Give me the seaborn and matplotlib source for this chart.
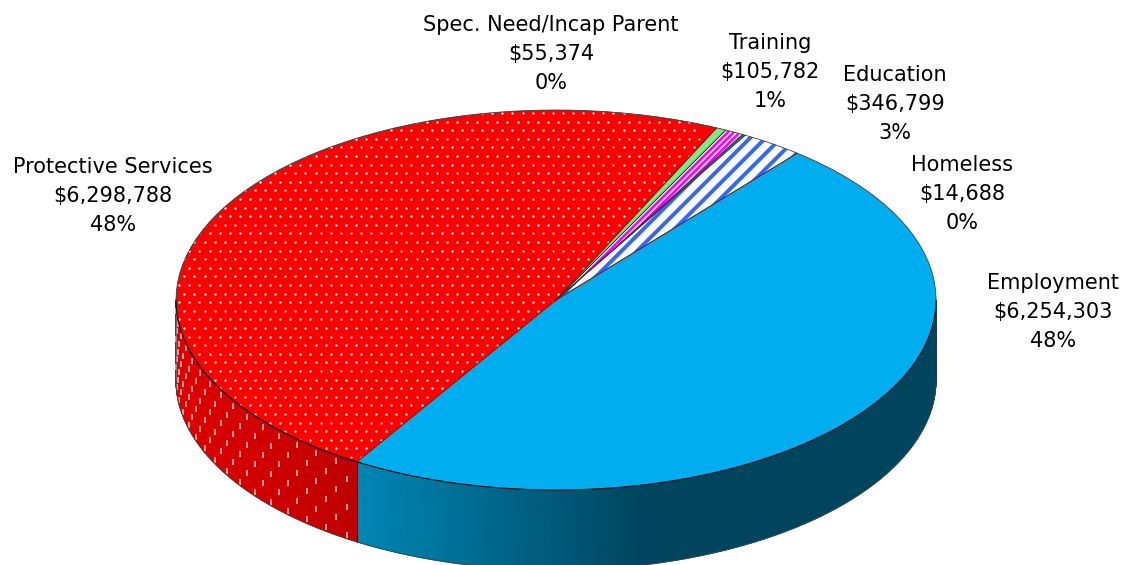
import numpy as np
import matplotlib.pyplot as plt
from matplotlib.collections import LineCollection
import seaborn as sns

# 1. Data
categories = ['Employment', 'Education', 'Homeless', 'Training', 'Spec. Need/Incap Parent', 'Protective Services']
amounts = [6254303, 346799, 14688, 105782, 55374, 6298788]
slice_colors = ['#00AEEF', '#FFFFFF', '#008FB5', '#FFFFFF', '#7FE87F', '#FF0000']

# 2. Layout in reference pixels
W, H = 1126, 565
CX, CY = 556, 300
RX, RY = 380, 190
DEPTH = 80
START_ANGLE = 238.4
label_pos = {
    'Employment': (1053, 312),
    'Education': (895, 104),
    'Homeless': (962, 194),
    'Training': (770, 72),
    'Spec. Need/Incap Parent': (551, 54),
    'Protective Services': (113, 196),
}


def px_x(x):
    return (np.asarray(x, dtype=float) - CX) / RX


def px_y(y):
    return (CY - np.asarray(y, dtype=float)) / RY


sns.set_theme(style='white')
plt.rcParams['font.family'] = ['DejaVu Sans']

fig = plt.figure(figsize=(W / 100, H / 100), dpi=100)
ax = fig.add_axes([0, 0, 1, 1])

# 3. Top face of the pie, the axes limits squash it into an ellipse
wedges, _ = ax.pie(amounts, colors=slice_colors, startangle=START_ANGLE, counterclock=True,
                   radius=1, center=(0, 0), wedgeprops={'linewidth': 0, 'zorder': 3})
ax.pie(amounts, startangle=START_ANGLE, counterclock=True, radius=1, center=(0, 0),
       wedgeprops={'fill': False, 'edgecolor': '#333333', 'linewidth': 0.55, 'zorder': 6})
ax.set_aspect('auto')
ax.set_xlim(px_x(0), px_x(W))
ax.set_ylim(px_y(H), px_y(0))
ax.axis('off')
wedge_by_name = dict(zip(categories, wedges))

# 4. Side wall, shaded left to right
depth = DEPTH / RY
wall_palettes = {
    'Employment': ['#0087B5', '#00445E', '#00445E'],
    'Protective Services': ['#E00000', '#BE0000'],
}
for name, colors in wall_palettes.items():
    w = wedge_by_name[name]
    t1, t2 = w.theta1 % 360, w.theta2 % 360
    if t2 <= t1:
        t2 += 360
    a = max(t1, 180)
    b = min(t2, 360)
    th = np.radians(np.linspace(a, b, 200))
    xs = np.cos(th)
    ys = np.sin(th)
    X = np.vstack([xs, xs])
    Y = np.vstack([ys, ys - depth])
    cmap = sns.blend_palette(colors, as_cmap=True)
    ax.pcolormesh(X, Y, X, cmap=cmap, shading='gouraud', zorder=2, vmin=xs.min(), vmax=xs.max())
    ax.plot(xs, ys - depth, color='#444444', lw=0.7, zorder=4)
    ax.plot(xs, ys, color='#111111', lw=0.8, zorder=6)

# wall edges
red = wedge_by_name['Protective Services']
red_end = red.theta2 % 360
edge = np.radians(red_end)
ax.plot([np.cos(edge)] * 2, [np.sin(edge), np.sin(edge) - depth], color='#222222', lw=0.8, zorder=4)
ax.plot([-1, -1], [0, -depth], color='#777777', lw=0.5, zorder=4)
ax.plot([1, 1], [0, -depth], color='#333333', lw=0.5, zorder=4)

# 5. Dot pattern on the red slice
row_y = np.arange(110, 470, 8.6)
gx, gy = [], []
for i, ry in enumerate(row_y):
    off = 189 if (i - 20) % 2 == 0 else 184
    cols = np.arange(off - 30, 700, 10.1)
    gx.extend(cols)
    gy.extend([ry + (285 - 110) % 8.6] * len(cols))
dots = ax.scatter(px_x(gx), px_y(gy), s=2.8, color='white', linewidths=0, marker='o', zorder=4)
dots.set_clip_path(red)

# dots on the red wall follow the curve of the rim
wall_x, wall_y = [], []
thetas = np.radians(np.arange(181.5, red_end - 0.5, 1.9))
for j, t in enumerate(thetas):
    for k in np.arange(1.0 if j % 2 else 0.0, 5.4, 2.0):
        wall_x.append(np.cos(t))
        wall_y.append(np.sin(t) - (6 + k * 14) / RY)
ax.scatter(wall_x, wall_y, marker='|', s=13, color='#EDC4C4', linewidths=1.1, zorder=3)


# 6. Stripe patterns on the thin slices
def stripes(wedge, color, step, lw, slope, phase):
    offs = phase + step * np.arange(-120, 120)
    segs = []
    for c in offs:
        x0, x1 = 400, 900
        y0 = 300 - slope * (x0 - c)
        y1 = 300 - slope * (x1 - c)
        segs.append([(px_x(x0), px_y(y0)), (px_x(x1), px_y(y1))])
    lc = LineCollection(segs, colors=color, linewidths=lw, zorder=4)
    ax.add_collection(lc, autolim=False)
    lc.set_clip_path(wedge)


stripes(wedge_by_name['Education'], '#3366FF', 15.5, 2.8, 1.0, 588)
stripes(wedge_by_name['Training'], '#FF00FF', 6, 1.9, 1.0, 590)

# 7. Labels
total = sum(amounts)
for name, value in zip(categories, amounts):
    x, y = label_pos[name]
    pct = round(value / total * 100)
    fig.text(x / W, 1 - y / H, f'{name}\n${value:,}\n{pct}%', ha='center', va='center',
             fontsize=15.0, color='#000000', linespacing=1.56)

fig.savefig('out.png', dpi=100)
